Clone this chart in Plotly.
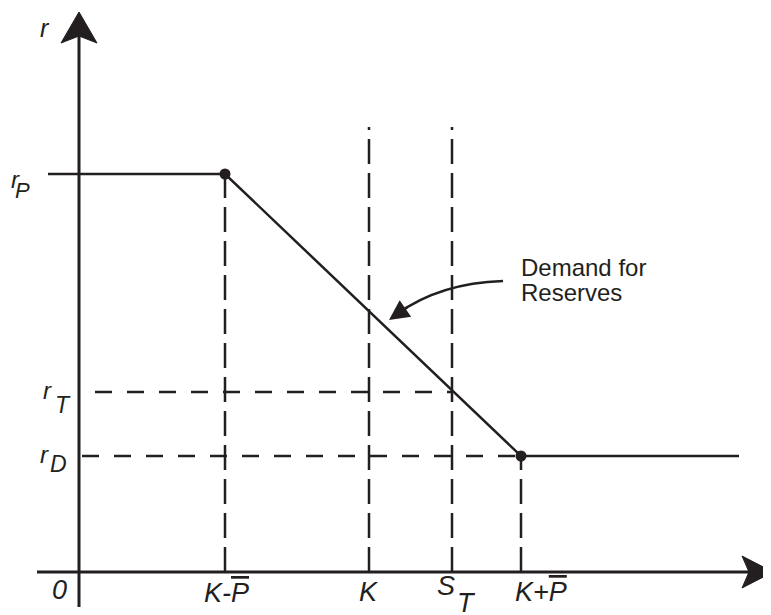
import plotly.graph_objects as go

# ---- data (in diagram units: origin at axes crossing) ----
K_MINUS_P = 146
K = 290
S_T = 373
K_PLUS_P = 442
F_END = 660
R_P = 398
R_T = 180
R_D = 116
V_TOP = 445
RP_START = -31
RD_START = 3
RT_START = 16
X_AXIS = [-42, 694]
Y_AXIS = [-35, 560]

INK = "#231f20"
FONT = "Liberation Sans"

fig = go.Figure()

def line(xs, ys, width=2.5, dash=None):
    fig.add_trace(go.Scatter(x=xs, y=ys, mode="lines",
                             line=dict(color=INK, width=width, dash=dash),
                             hoverinfo="skip", showlegend=False))

VDASH = "25px,9px"
HDASH = "17px,15px"

# axes
line([X_AXIS[0], X_AXIS[1] - 20], [0, 0], width=3)
line([0, 0], [Y_AXIS[0], Y_AXIS[1] - 20], width=3)
# arrowheads (filled darts)
yt = Y_AXIS[1]
fig.add_trace(go.Scatter(x=[0, -18, 0, 18, 0], y=[yt, yt - 31, yt - 24, yt - 31, yt],
                         mode="lines", fill="toself", fillcolor=INK,
                         line=dict(color=INK, width=1), hoverinfo="skip", showlegend=False))
xt = X_AXIS[1]
fig.add_trace(go.Scatter(x=[xt, xt - 31, xt - 24, xt - 31, xt], y=[0, 16, 0, -16, 0],
                         mode="lines", fill="toself", fillcolor=INK,
                         line=dict(color=INK, width=1), hoverinfo="skip", showlegend=False))

# dashed guides
line([K_MINUS_P, K_MINUS_P], [0, R_P], dash=VDASH)
line([K, K], [0, V_TOP], dash=VDASH)
line([S_T, S_T], [0, V_TOP], dash=VDASH)
line([K_PLUS_P, K_PLUS_P], [0, R_D], dash=VDASH)
line([RT_START, S_T], [R_T, R_T], dash=HDASH)
line([RD_START, K_PLUS_P], [R_D, R_D], dash=HDASH)

# demand curve
line([RP_START, K_MINUS_P, K_PLUS_P, F_END], [R_P, R_P, R_D, R_D], width=2.5)
fig.add_trace(go.Scatter(x=[K_MINUS_P, K_PLUS_P], y=[R_P, R_D], mode="markers",
                         marker=dict(color=INK, size=11), hoverinfo="skip", showlegend=False))

# curved pointer
fig.add_shape(type="path", path="M 424,291 Q 361,289 318,258", xref="x", yref="y",
              line=dict(color=INK, width=2.5))
fig.add_annotation(x=310, y=252, ax=330, ay=266, axref="x", ayref="y", xref="x", yref="y",
                   text="", showarrow=True, arrowhead=2, arrowsize=1.6, arrowwidth=2.5,
                   arrowcolor=INK)

def label(x, y, text, size=27, italic=True, xanchor="center"):
    fig.add_annotation(x=x, y=y, xref="x", yref="y", text=text, showarrow=False,
                       xanchor=xanchor, yanchor="middle",
                       font=dict(family=FONT, size=size, color=INK,
                                 style="italic" if italic else "normal"))

OV = '<span style="text-decoration:overline">P</span>'

label(-34, 544, "r", size=25)
label(-63.5, 392.5, "r", size=24)
label(-56.5, 381.5, "P", size=22)
label(-31.5, 181.5, "r", size=24)
label(-16.5, 167, "T", size=23)
label(-35, 118, "r", size=24)
label(-20.5, 108.5, "D", size=23)

label(-20, -18, "0")
label(147, -21, "K-" + OV)
label(289, -20, "K")
label(367, -14, "S")
label(387, -31, "T")
label(462, -20, "K+" + OV)
label(682, -20, "F", xanchor="left")

label(440, 305, "Demand for", size=24, italic=False, xanchor="left")
label(440, 280, "Reserves", size=24, italic=False, xanchor="left")

# page body adds an 8px offset; ranges are shifted to compensate
fig.update_layout(
    width=771, height=615,
    margin=dict(l=0, r=0, t=0, b=0),
    paper_bgcolor="white", plot_bgcolor="white",
    xaxis=dict(range=[-71, 700], visible=False, fixedrange=True),
    yaxis=dict(range=[-51, 564], visible=False, fixedrange=True),
    showlegend=False,
)

fig.write_html("out.html")
